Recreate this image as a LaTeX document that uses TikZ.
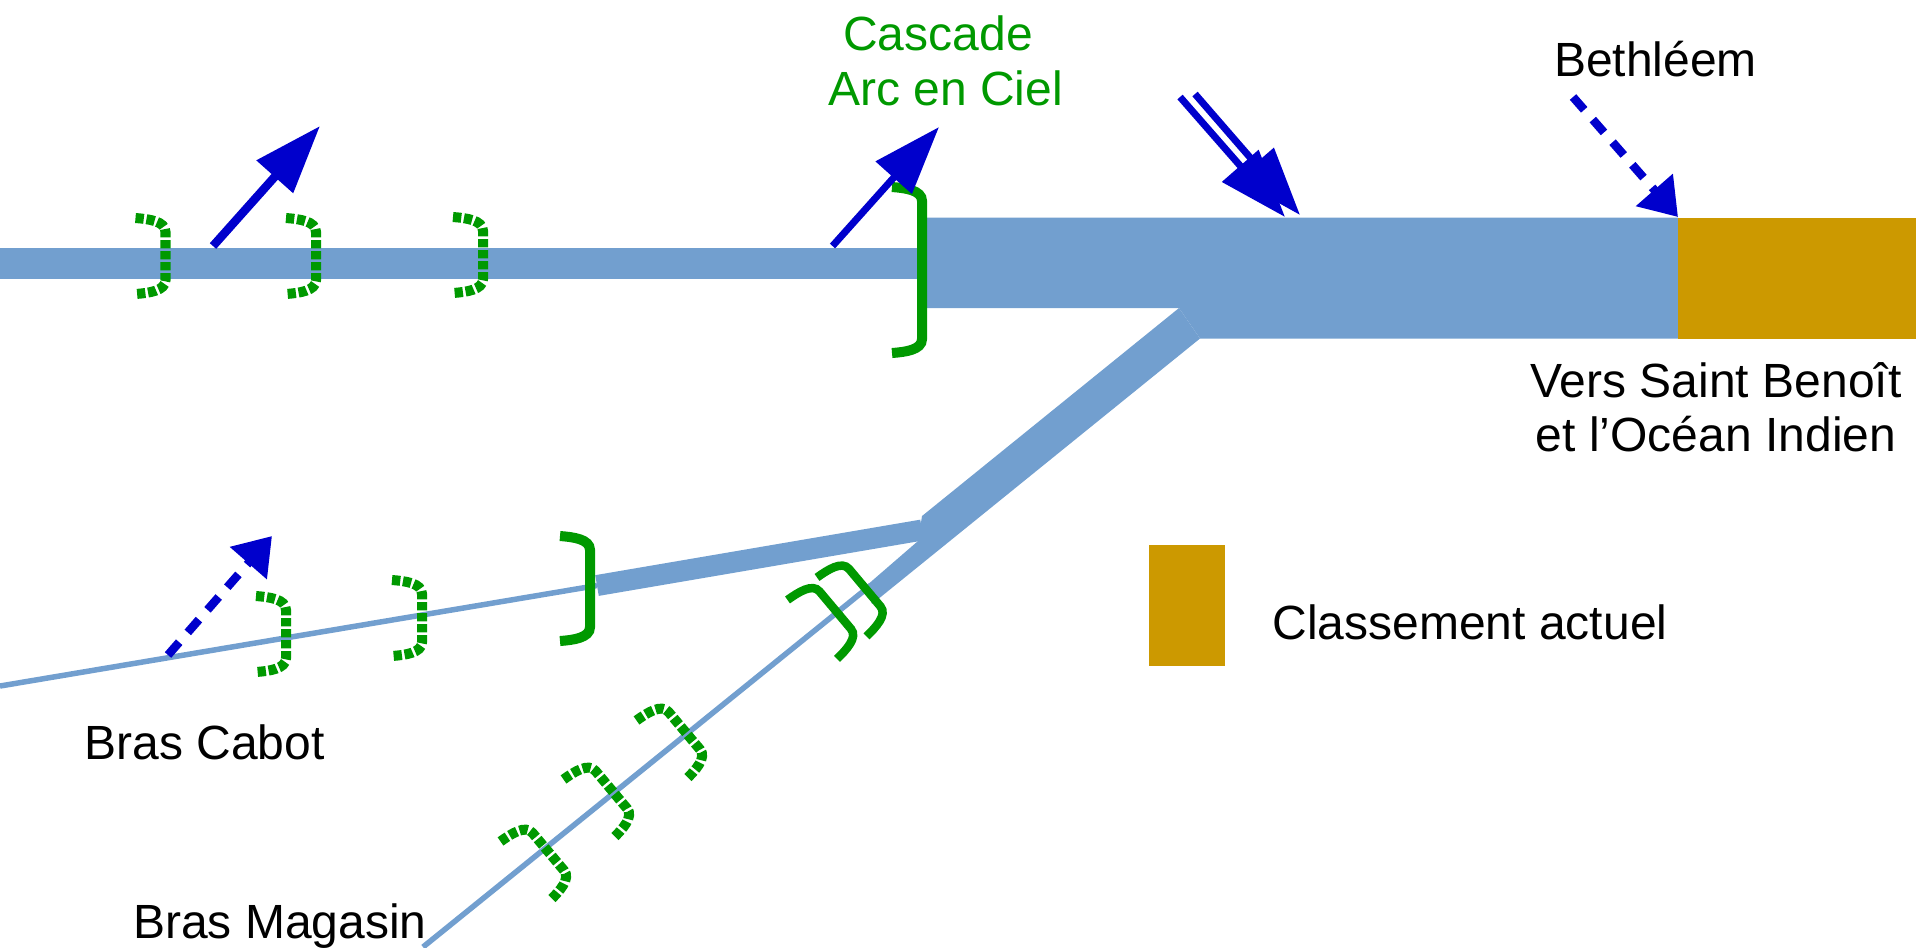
\documentclass[tikz,border=0pt]{standalone}
\usepackage{fontspec}
\setmainfont{Liberation Sans}
\usetikzlibrary{arrows.meta}
\definecolor{eau}{HTML}{729FCF}
\definecolor{vert}{HTML}{009900}
\definecolor{bleu}{HTML}{0000CC}
\definecolor{ocre}{HTML}{CC9900}
\tikzset{
  etiquette/.style={inner sep=0pt,font=\fontsize{13.65}{15.3}\selectfont,align=center},
  barrage/.style={draw=vert,line width=0.1cm},
  seuil/.style={draw=vert,line width=0.1cm,dash pattern=on 0.083cm off 0.027cm},
  cours/.style={draw=eau,line width=0.055cm},
  apport/.style={draw=bleu,line width=0.07cm,-{Triangle[length=0.68cm,width=0.47cm]}},
  diffus/.style={draw=bleu,line width=0.085cm,dash pattern=on 0.17cm off 0.13cm,-{Triangle[length=0.36cm,width=0.47cm]}}
}
\newcommand{\crochet}[4]{\draw[#1,shift={(#2)},rotate=#3] (-31,-#4) .. controls (-18,{-#4+1}) and (-1,{-#4+3}) .. (-1,{-#4+14}) -- (-1,{#4-14}) .. controls (-1,{#4-3}) and (-18,{#4-1}) .. (-31,#4);}
\begin{document}
\begin{tikzpicture}[x=0.01cm,y=-0.01cm]
  \useasboundingbox (0,0) rectangle (1916,947);
  % rivieres
  \coordinate (Ca) at (0,686);
  \coordinate (Cb) at (597,585.5);
  \coordinate (Cc) at (922,530);
  \coordinate (Ma) at (423,947);
  \coordinate (Mb) at (871,585);
  \fill[eau] (0,248) rectangle (925,278.5);
  \fill[eau] (922,217.5) -- (1678,217.5) -- (1678,338.5) -- (1200,338.5) -- (1179,308) -- (922,308) -- cycle;
  \fill[eau] (1179,308) -- (1200,338.5) -- (872,604) -- (866,586) -- (918,541) -- (922,516) -- cycle;
  \draw[cours] (Ca) -- (Cb);
  \draw[cours,line width=0.21cm] (Cb) -- (Cc);
  \draw[cours] (Ma) -- (Mb);
  \fill[ocre] (1678,217.5) rectangle (1916,338.5);
  \fill[ocre] (1149,545) rectangle (1224.5,666);
  % barrages
  \crochet{seuil}{166.5,256}{0}{38}
  \crochet{seuil}{317,256}{0}{38}
  \crochet{seuil}{484,255}{0}{38}
  \crochet{barrage}{923,270}{0}{83}
  \crochet{seuil}{287,634}{0}{38}
  \crochet{seuil}{423,618}{0}{38}
  \crochet{barrage}{591,588.5}{0}{52.5}
  \crochet{barrage,line width=0.085cm}{836,609.5}{40}{38.5}
  \crochet{barrage,line width=0.085cm}{865.5,587}{40}{38.5}
  \crochet{seuil}{685,730}{40}{38.5}
  \crochet{seuil}{612,789}{40}{38.5}
  \crochet{seuil}{549,851}{40}{38.5}
  % apports
  \coordinate (A1) at (213,246);
  \coordinate (A2) at (320,126);
  \coordinate (B1) at (832.5,246);
  \coordinate (B2) at (939,127);
  \coordinate (D1) at (1180,97);
  \coordinate (D2) at (1285,217);
  \coordinate (E1) at (1195,94);
  \coordinate (E2) at (1300,215);
  \coordinate (F1) at (1573,97);
  \coordinate (F2) at (1678,217);
  \coordinate (G1) at (168,655);
  \coordinate (G2) at (272,536);
  \draw[apport,line width=0.085cm] (A1) -- (A2);
  \draw[apport] (B1) -- (B2);
  \draw[apport] (D1) -- (D2);
  \draw[apport] (E1) -- (E2);
  \draw[diffus] (F1) -- (F2);
  \draw[diffus] (G1) -- (G2);
  % textes
  \node[etiquette,text=vert] (cascade) at (938,33) {Cascade};
  \node[etiquette,text=vert] (arc) at (945.5,88) {Arc en Ciel};
  \node[etiquette] (bethleem) at (1655.5,59) {Bethléem};
  \node[etiquette] (vers) at (1716,407) {Vers Saint Benoît\\et l’Océan Indien};
  \node[etiquette] (classement) at (1470,622) {Classement actuel};
  \node[etiquette] (cabot) at (204.5,742) {Bras Cabot};
  \node[etiquette] (magasin) at (280,926.5) {Bras Magasin};
\end{tikzpicture}
\end{document}
